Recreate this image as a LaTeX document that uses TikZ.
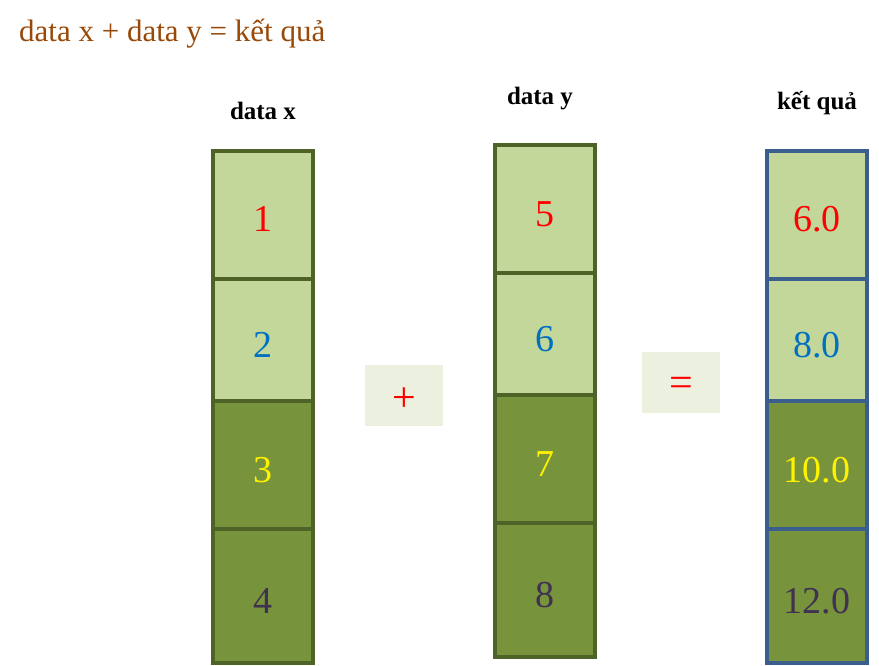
\documentclass[tikz,border=0pt]{standalone}
\usepackage{fontspec}
\setmainfont{Liberation Serif}
\usepackage{tikz}
\usetikzlibrary{positioning}

\definecolor{olivedark}{HTML}{4F6228}
\definecolor{olivelight}{HTML}{C4D79B}
\definecolor{olivemid}{HTML}{77933C}
\definecolor{resblue}{HTML}{3A5F8E}
\definecolor{opfill}{HTML}{EBF1DE}
\definecolor{titlebrown}{HTML}{984807}
\definecolor{numblue}{HTML}{0070C0}
\definecolor{numdark}{HTML}{403151}

\begin{document}
\begin{tikzpicture}[x=1pt, y=-1pt,
    cell/.style={draw=olivedark, line width=3.5pt, minimum width=100pt, inner sep=0pt,
      text height=34pt, text depth=0pt, font=\fontsize{38}{38}\selectfont},
    light/.style={cell, fill=olivelight},
    dark/.style={cell, fill=olivemid},
    rescell/.style={draw=resblue},
    opbox/.style={fill=opfill, minimum width=78pt, minimum height=61pt},
    opsign/.style={text=red, yshift=-5pt, font=\fontsize{42}{42}\selectfont},
    head/.style={font=\fontsize{25}{25}\selectfont\bfseries}]
  \useasboundingbox (0,0) rectangle (879,666);

  \node[anchor=west, inner sep=0pt, text=titlebrown, font=\fontsize{31}{31}\selectfont] (title) at (19,34) {data x + data y = kết quả};

  % data x
  \node[head] (hx) at (263,111) {data x};
  \node[light, minimum height=128pt, text=red] (x1) at (263,215) {1};
  \node[light, minimum height=122pt, text=numblue] (x2) at (263,340) {2};
  \node[dark, minimum height=128pt, text=yellow] (x3) at (263,465) {3};
  \node[dark, minimum height=134pt, text=numdark] (x4) at (263,596) {4};

  \node[opbox] (plus) at (404,395) {};
  \node[opsign] (plussign) at (plus) {+};

  % data y
  \node[head] (hy) at (540,99) {data y};
  \node[light, minimum height=128pt, text=red] (y1) at (545,209) {5};
  \node[light, minimum height=122pt, text=numblue] (y2) at (545,334) {6};
  \node[dark, minimum height=128pt, text=yellow] (y3) at (545,459) {7};
  \node[dark, minimum height=134pt, text=numdark] (y4) at (545,590) {8};

  \node[opbox] (eq) at (681,382) {};
  \node[opsign] (eqsign) at (eq) {=};

  % ket qua
  \node[head] (hr) at (817,103) {kết quả};
  \node[light, rescell, minimum height=128pt, text=red] (r1) at (817,215) {6.0};
  \node[light, rescell, minimum height=122pt, text=numblue] (r2) at (817,340) {8.0};
  \node[dark, rescell, minimum height=128pt, text=yellow] (r3) at (817,465) {10.0};
  \node[dark, rescell, minimum height=134pt, text=numdark] (r4) at (817,596) {12.0};
\end{tikzpicture}
\end{document}
